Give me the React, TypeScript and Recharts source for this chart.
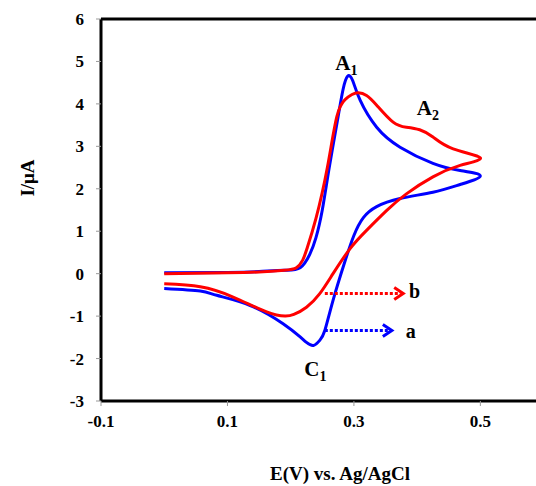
import React from 'react';
import {LineChart, Line, XAxis, YAxis, ReferenceLine, ReferenceDot} from 'recharts';

// curve a (blue): forward scan then reverse scan
const blueE = [0, 0.1, 0.15, 0.19, 0.215, 0.23, 0.24, 0.25, 0.261, 0.275, 0.283, 0.29, 0.298, 0.31, 0.336, 0.373, 0.425, 0.468, 0.5,
  0.468, 0.425, 0.373, 0.336, 0.315, 0.3, 0.285, 0.267, 0.254, 0.246, 0.236, 0.225, 0.215, 0.188, 0.136, 0.083, 0.057, 0];
const blueI = [0.02, 0.03, 0.05, 0.08, 0.14, 0.45, 0.85, 1.5, 2.5, 3.7, 4.35, 4.65, 4.55, 4.08, 3.45, 2.98, 2.6, 2.43, 2.3,
  2.1, 1.92, 1.77, 1.58, 1.32, 0.9, 0.25, -0.63, -1.34, -1.57, -1.69, -1.62, -1.49, -1.18, -0.75, -0.51, -0.41, -0.35];

// curve b (red)
const redE = [0, 0.1, 0.15, 0.19, 0.209, 0.219, 0.226, 0.24, 0.258, 0.273, 0.286, 0.297, 0.307, 0.32, 0.336, 0.362, 0.383, 0.404, 0.425, 0.457, 0.5,
  0.468, 0.425, 0.383, 0.352, 0.32, 0.294, 0.267, 0.246, 0.225, 0.205, 0.191, 0.162, 0.109, 0.057, 0];
const redI = [0, 0.02, 0.04, 0.08, 0.14, 0.32, 0.6, 1.3, 2.5, 3.7, 4.1, 4.22, 4.26, 4.2, 3.97, 3.57, 3.45, 3.39, 3.22, 2.94, 2.73,
  2.55, 2.28, 1.88, 1.49, 1.02, 0.59, 0.0, -0.47, -0.79, -0.96, -1.0, -0.9, -0.55, -0.31, -0.24];

const xTicks = [-0.1, 0.1, 0.3, 0.5];
const yTicks = [-3, -2, -1, 0, 1, 2, 3, 4, 5, 6];

const blueData = blueE.map((e, i) => ({x: e, y: blueI[i]}));
const redData = redE.map((e, i) => ({x: e, y: redI[i]}));

const font = '"Liberation Serif", "Times New Roman", serif';
const tickStyle = {fontFamily: font, fontWeight: 'bold', fontSize: 17, fill: '#000'};

const peakLabel = (main: string, sub: string) => (p: any) => (
  <text x={p.cx} y={p.cy} textAnchor="middle" fontFamily={font} fontWeight="bold" fontSize={21} fill="#000">
    {main}
    <tspan fontSize={14} dy={5}>{sub}</tspan>
  </text>
);

const letter = (t: string) => (p: any) => (
  <text x={p.cx} y={p.cy} textAnchor="middle" fontFamily={font} fontWeight="bold" fontSize={20} fill="#000">{t}</text>
);

const head = (color: string) => (p: any) => (
  <polyline points={`${p.cx - 9},${p.cy - 6} ${p.cx},${p.cy} ${p.cx - 9},${p.cy + 6}`} fill="none" stroke={color} strokeWidth={3} />
);

const YLabel = (props: any) => {
  const vb = props.viewBox;
  const cx = vb.x + 27;
  const cy = vb.y + vb.height / 2 - 32;
  return (
    <text x={cx} y={cy} transform={`rotate(-90 ${cx} ${cy})`} textAnchor="middle" dominantBaseline="central"
      fontFamily={font} fontWeight="bold" fontSize={19} fill="#000">I/μA</text>
  );
};

const XLabel = (props: any) => {
  const vb = props.viewBox;
  return (
    <text x={vb.x + 239} y={vb.y + 72} textAnchor="middle" dominantBaseline="central"
      fontFamily={font} fontWeight="bold" fontSize={19} fill="#000">E(V) vs. Ag/AgCl</text>
  );
};

export default function App() {
  return (
    <div style={{position: 'fixed', left: 0, top: 0, width: 536, height: 486, background: '#fff'}}>
      <LineChart width={536} height={486} margin={{top: 19, right: 0, left: 0, bottom: 0}}>
        <XAxis type="number" dataKey="x" domain={[-0.1, 0.588]} ticks={xTicks} allowDataOverflow
          tickFormatter={(v: number) => String(v)} height={85} tick={tickStyle} tickSize={5} tickMargin={9}
          axisLine={{stroke: '#000', strokeWidth: 3}} tickLine={{stroke: '#999'}} label={<XLabel />} />
        <YAxis type="number" dataKey="y" domain={[-3, 6]} ticks={yTicks} width={101} tick={tickStyle}
          tickSize={5} tickMargin={12} axisLine={{stroke: '#000', strokeWidth: 3}} tickLine={{stroke: '#999'}}
          label={<YLabel />} />
        <ReferenceLine y={6} stroke="#000" strokeWidth={3} />
        <Line data={blueData} dataKey="y" type="natural" stroke="#0000ff" strokeWidth={3} dot={false} isAnimationActive={false} />
        <Line data={redData} dataKey="y" type="natural" stroke="#ff0000" strokeWidth={3} dot={false} isAnimationActive={false} />
        <ReferenceLine segment={[{x: 0.254, y: -0.47}, {x: 0.374, y: -0.47}]} stroke="#ff0000" strokeWidth={3} strokeDasharray="3 2" />
        <ReferenceDot x={0.378} y={-0.47} shape={head('#ff0000')} />
        <ReferenceLine segment={[{x: 0.254, y: -1.34}, {x: 0.356, y: -1.34}]} stroke="#0000ff" strokeWidth={3} strokeDasharray="3 2" />
        <ReferenceDot x={0.36} y={-1.34} shape={head('#0000ff')} />
        <ReferenceDot x={0.288} y={4.79} shape={peakLabel('A', '1')} />
        <ReferenceDot x={0.417} y={3.73} shape={peakLabel('A', '2')} />
        <ReferenceDot x={0.239} y={-2.4} shape={peakLabel('C', '1')} />
        <ReferenceDot x={0.396} y={-0.58} shape={letter('b')} />
        <ReferenceDot x={0.39} y={-1.52} shape={letter('a')} />
      </LineChart>
    </div>
  );
}
